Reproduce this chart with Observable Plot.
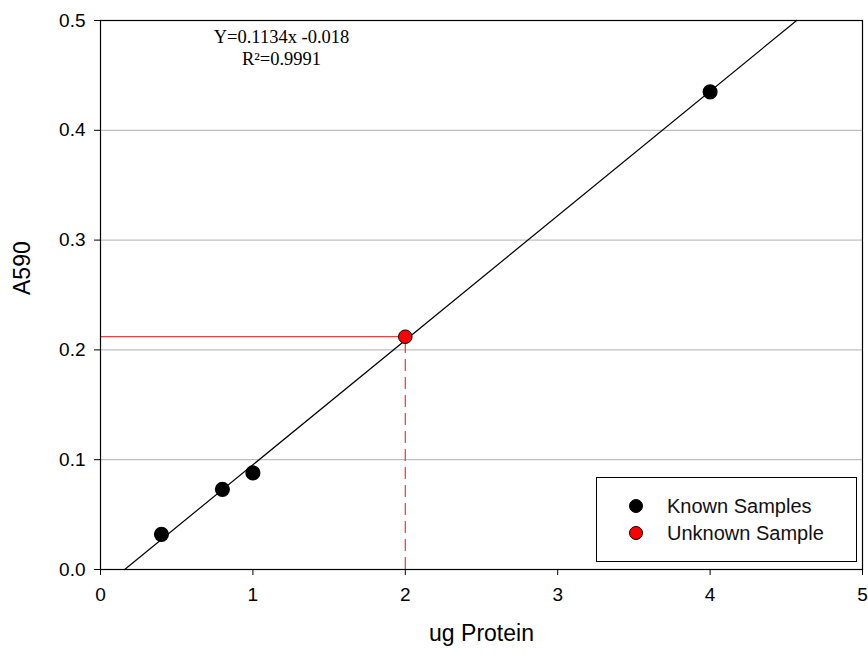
<!DOCTYPE html>
<html>
<head>
<meta charset="utf-8">
<script src="https://cdn.jsdelivr.net/npm/d3@7"></script>
<script src="https://cdn.jsdelivr.net/npm/@observablehq/plot@0.6"></script>
<style>
  html, body { margin: 0; padding: 0; background: #fff; }
  #wrap { position: relative; width: 868px; height: 657px; }
  .legend { position: absolute; left: 596px; top: 477px; width: 259px; height: 83px;
    border: 1px solid #000; background: #fff; font-family: "Liberation Sans", Arial, sans-serif; font-size: 20px; color: #111; }
  .row { position: absolute; left: 0; display: flex; align-items: center; height: 24px; }
  .sw { width: 14px; height: 14px; border-radius: 50%; border: 1px solid #000; box-sizing: border-box; margin-left: 32px; margin-right: 24px; }
</style>
</head>
<body>
<div id="wrap"></div>
<script>
const knownX = [0.4, 0.8, 1.0, 4.0];
const knownY = [0.032, 0.073, 0.088, 0.435];
const unknownX = [2.0];
const unknownY = [0.212];
const slope = 0.1134;
const intercept = -0.018;
const equationLines = ["Y=0.1134x -0.018", "R²=0.9991"];
const xTicks = [0, 1, 2, 3, 4, 5];
const yTicks = [0.0, 0.1, 0.2, 0.3, 0.4, 0.5];
const gridY = [0.1, 0.2, 0.3, 0.4];
const legendLabels = ["Known Samples", "Unknown Sample"];
const legendColors = ["#000000", "#ff0000"];

const known = knownX.map((x, i) => ({x, y: knownY[i]}));
const unknown = unknownX.map((x, i) => ({x, y: unknownY[i]}));
const yMax = 0.5;
const fit = [
  {x: (0 - intercept) / slope, y: 0},
  {x: (yMax - intercept) / slope, y: yMax}
];

const chart = Plot.plot({
  width: 868,
  height: 657,
  marginLeft: 100,
  marginRight: 6,
  marginTop: 20,
  marginBottom: 88,
  style: {fontFamily: "'Liberation Sans', Arial, sans-serif", fontSize: "19px", color: "#000", background: "#fff"},
  x: {domain: [0, 5], label: null},
  y: {domain: [0, 0.5], label: null},
  marks: [
    Plot.ruleY(gridY, {stroke: "#b0b0b0", strokeWidth: 1}),
    Plot.ruleY(unknown, {x1: 0, x2: "x", y: "y", stroke: "#ff0000", strokeWidth: 1}),
    Plot.ruleX(unknown, {x: "x", y1: 0, y2: "y", stroke: "#ff3030", strokeWidth: 1.2, strokeDasharray: "12,6"}),
    Plot.line(fit, {x: "x", y: "y", stroke: "#000", strokeWidth: 1.2}),
    Plot.dot(known, {x: "x", y: "y", r: 6.8, fill: "#000", stroke: "#000"}),
    Plot.dot(unknown, {x: "x", y: "y", r: 6.8, fill: "#ff0000", stroke: "#000", strokeWidth: 1}),
    Plot.frame({stroke: "#000", strokeWidth: 1.2}),
    Plot.axisX({ticks: xTicks, tickSize: 6, tickPadding: 12, fontSize: 19, tickFormat: d3.format("d"), label: null, color: "#000"}),
    Plot.axisY({ticks: yTicks, tickSize: 6, tickPadding: 9, fontSize: 19, tickFormat: d3.format(".1f"), label: null, color: "#000"}),
    Plot.text([equationLines.join("\n")], {frameAnchor: "top-left", dx: 181, dy: 7, lineAnchor: "top", text: d => d, lineHeight: 1.2,
      fontFamily: "'Liberation Serif', 'Times New Roman', serif", fontSize: 18.5, textAnchor: "middle", fill: "#000"}),
    Plot.text(["ug Protein"], {frameAnchor: "bottom", dy: 71, fontSize: 23, text: d => d, fill: "#000"}),
    Plot.text(["A590"], {frameAnchor: "left", dx: -78, rotate: -90, fontSize: 23, text: d => d, fill: "#000"})
  ]
});
document.getElementById("wrap").appendChild(chart);

const legend = document.createElement("div");
legend.className = "legend";
legendLabels.forEach((lab, i) => {
  const row = document.createElement("div");
  row.className = "row";
  row.style.top = (16 + i * 27) + "px";
  const sw = document.createElement("span");
  sw.className = "sw";
  sw.style.background = legendColors[i];
  const t = document.createElement("span");
  t.textContent = lab;
  row.appendChild(sw);
  row.appendChild(t);
  legend.appendChild(row);
});
document.getElementById("wrap").appendChild(legend);
</script>
</body>
</html>
